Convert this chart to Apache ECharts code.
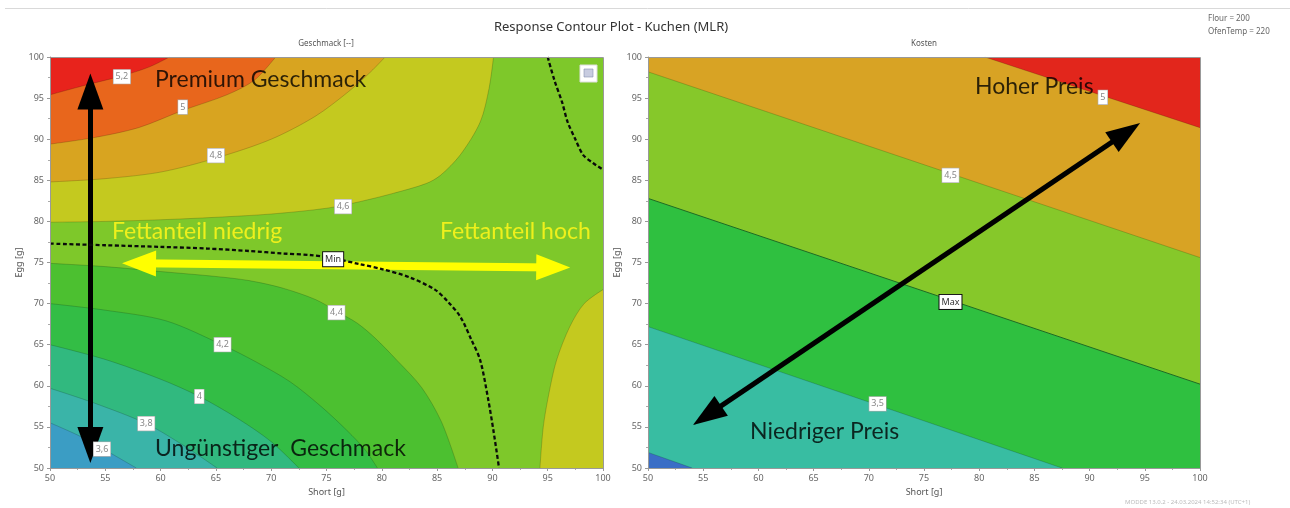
<!DOCTYPE html>
<html><head><meta charset="utf-8">
<script src="https://cdn.jsdelivr.net/npm/echarts@6/dist/echarts.min.js"></script>
<style>html,body{margin:0;padding:0;background:#fff}#c{width:1290px;height:508px}</style>
</head><body><div id="c"></div>
<script>
// ---------- data ----------
const AXIS_MIN = 50, AXIS_MAX = 100, TICK_STEP = 5;

// Geschmack (left) contour lines [Short, Egg]
const geschmack_5_2 = [[50,95.4],[53,96.5],[56.5,97.7],[59,98.8],[60.8,100]];
const geschmack_5_0 = [[50,89.4],[54,90.2],[58,91.4],[62,93.5],[66,95.4],[68.5,97.2],[70.4,100]];
const geschmack_4_8 = [[50,84.8],[55,85.2],[60,86.0],[65,87.7],[70,90.0],[74,92.8],[77,95.8],[79,98.2],[80.3,100]];
const geschmack_4_6_top = [[50,79.9],[55,80.0],[60,80.2],[65,80.5],[70,80.9],[75,81.6],[78,82.4],[81,83.4],[84,84.6],[85.3,85.6],[87.1,88.1],[88.9,92.1],[89.7,96.2],[90.1,100]];
const geschmack_4_6_right = [[94.3,50],[94.6,55],[95.1,59],[95.8,63.1],[97.0,67.2],[98.3,70.0],[100,71.7]];
const geschmack_4_4 = [[50,74.9],[55,74.5],[60,73.9],[65,73.3],[68,72.8],[71,71.9],[74,70.5],[76,69.0],[77.8,67.6],[79.4,65.8],[81.3,63.2],[83.6,59.8],[85.4,55.6],[86.9,50]];
const geschmack_4_2 = [[50,70.0],[55,69.2],[60.5,67.9],[65.7,64.9],[68.5,63.0],[71.7,60.5],[74.5,57.5],[76.9,54.5],[78.5,52.2],[79.6,50]];
const geschmack_4_0 = [[50,65.0],[55,63.2],[60,60.8],[63.5,58.7],[67,56.0],[70,53.2],[72.5,50]];
const geschmack_3_8 = [[50,59.7],[54,57.9],[58.7,55.4],[62,52.8],[65.1,50]];
const geschmack_3_6 = [[50,55.5],[52.5,54.0],[54.7,52.4],[57.8,50]];
const geschmack_minLine = [[50,77.3],[55,77.1],[60,76.9],[64.2,76.7],[68,76.4],[71,76.1],[73.6,75.9],[75.6,75.5],[78,74.8],[80,74.2],[82.5,73.2],[84.8,71.7],[86,70.2],[87.1,68.4],[88.1,65.6],[88.9,63.1],[89.6,58.5],[90.1,54.5],[90.6,50]];
const geschmack_limitTopRight = [[95.0,100],[95.6,97.2],[96.3,94.5],[96.8,92.1],[97.5,90.0],[98.2,88.1],[99.1,87.1],[100,86.3]];
const geschmackLabels = [[56.5,97.6,'5,2'],[62.0,93.9,'5'],[65.0,88.0,'4,8'],[76.5,81.8,'4,6'],[75.9,68.9,'4,4'],[65.6,65.0,'4,2'],[63.5,58.7,'4'],[58.7,55.4,'3,8'],[54.7,52.3,'3,6']];
const geschmackMarker = [[75.6,75.4,'Min']];

// Kosten (right) contour lines [Short, Egg]
const kosten_5_0 = [[80.5,100],[100,91.4]];
const kosten_4_5 = [[50,98.2],[100,75.6]];
const kosten_max = [[50,82.8],[100,60.2]];
const kosten_3_5 = [[50,67.2],[87.5,50]];
const kosten_3_0 = [[50,51.9],[54,50]];
const kostenLabels = [[91.2,95.1,'5'],[77.4,85.6,'4,5'],[70.8,57.8,'3,5']];
const kostenMarker = [[77.4,70.2,'Max']];

// annotation arrows [from, to] in data units
const arrowGeschmack = [[53.65,95.8],[53.65,52.8]];
const arrowFett = [[58.05,74.9],[95.5,74.4]];
const arrowPreis = [[55.35,56.4],[93.3,90.8]];

// ---------- layout ----------
const G = [{left:50, top:57, width:553, height:411},{left:648, top:57, width:552, height:411}];
const FONT = 'Noto Sans';

function axisX(i){return {gridIndex:i,type:'value',min:AXIS_MIN,max:AXIS_MAX,interval:TICK_STEP,
  name:'Short [g]',nameLocation:'middle',nameGap:20,nameTextStyle:{fontSize:9,color:'#555',fontFamily:FONT},
  axisLine:{show:true,lineStyle:{color:'#999'}},axisTick:{show:true,length:3,lineStyle:{color:'#999'}},
  minorTick:{show:true,splitNumber:2,length:2,lineStyle:{color:'#aaa'}},
  axisLabel:{fontSize:9,color:'#666',margin:6,fontFamily:FONT},splitLine:{show:false}};}
function axisY(i){return {gridIndex:i,type:'value',min:AXIS_MIN,max:AXIS_MAX,interval:TICK_STEP,
  name:'Egg [g]',nameLocation:'middle',nameGap:26,nameTextStyle:{fontSize:9,color:'#555',fontFamily:FONT},
  axisLine:{show:true,lineStyle:{color:'#999'}},axisTick:{show:true,length:3,lineStyle:{color:'#999'}},
  minorTick:{show:true,splitNumber:2,length:2,lineStyle:{color:'#aaa'}},
  axisLabel:{fontSize:9,color:'#666',margin:6,fontFamily:FONT},splitLine:{show:false}};}

function band(i,data,color,origin,smooth){return {type:'line',xAxisIndex:i,yAxisIndex:i,data:data,
  smooth:smooth?0.3:false,symbol:'none',silent:true,animation:false,
  lineStyle:{color:'rgba(0,0,0,0.22)',width:0.8},areaStyle:{color:color,opacity:1,origin:origin}};}
function dashed(i,data){return {type:'line',xAxisIndex:i,yAxisIndex:i,data:data,smooth:0.3,
  symbol:'none',silent:true,animation:false,z:5,lineStyle:{color:'#0a0a0a',width:2.3,type:[4,2.5]}};}
function labels(i,data,marker){return {type:'scatter',xAxisIndex:i,yAxisIndex:i,symbol:'rect',symbolSize:1,silent:true,animation:false,z:8,
  itemStyle:{color:'rgba(0,0,0,0)',opacity:1},
  data:data.map(d=>({value:d})).concat(marker.map(d=>({value:d,label:{borderColor:'#111',borderWidth:1,color:'#333'}}))),
  label:{show:true,position:'inside',formatter:p=>p.value[2],fontSize:9,color:'#888',fontFamily:FONT,opacity:1,
    backgroundColor:'#fff',borderColor:'#aaa',borderWidth:0.6,padding:[3,2,2,2]}};}
function arrow(i,pts,color,width,size){return {type:'line',xAxisIndex:i,yAxisIndex:i,data:[],z:9,silent:true,animation:false,
  markLine:{silent:true,animation:false,symbol:['triangle','triangle'],symbolSize:size,label:{show:false},
    lineStyle:{color:color,width:width,type:'solid'},emphasis:{disabled:true},
    data:[[{coord:pts[0]},{coord:pts[1]}]]}};}

const series = [
  band(0,geschmack_4_6_top,'#c4c91f','end',true),
  band(0,geschmack_4_8,'#d8a420','end',true),
  band(0,geschmack_5_0,'#e8661c','end',true),
  band(0,geschmack_5_2,'#e8231c','end',true),
  band(0,geschmack_4_6_right,'#c4c91f','start',true),
  band(0,geschmack_4_4,'#4cc030','start',true),
  band(0,geschmack_4_2,'#33bd45','start',true),
  band(0,geschmack_4_0,'#31b97f','start',true),
  band(0,geschmack_3_8,'#3ab4a8','start',true),
  band(0,geschmack_3_6,'#3b9dc4','start',true),
  dashed(0,geschmack_minLine),
  dashed(0,geschmack_limitTopRight),
  labels(0,geschmackLabels,geschmackMarker),
  band(1,kosten_4_5,'#d8a324','end',false),
  band(1,kosten_5_0,'#e2261c','end',false),
  band(1,kosten_max,'#2fc040','start',false),
  band(1,kosten_3_5,'#38bda2','start',false),
  band(1,kosten_3_0,'#3a6ec6','start',false),
  labels(1,kostenLabels,kostenMarker),
  arrow(0,arrowGeschmack,'#000',5,[26,36]),
  arrow(0,arrowFett,'#ffff00',8,[26,34]),
  arrow(1,arrowPreis,'#000',5,[24,34])
];
series[15].lineStyle = {color:'#1d6b25',width:1};

const annot = (x,y,text,color,size)=>({type:'text',x:x,y:y,z:50,silent:true,
  style:{text:text,fill:color,font:size+'px Lato',textVerticalAlign:'middle'}});

const option = {
  animation:false,
  grid:[Object.assign({show:true,backgroundColor:'#7ec82a',borderWidth:0},G[0]),
        Object.assign({show:true,backgroundColor:'#86c82a',borderWidth:0},G[1])],
  xAxis:[axisX(0),axisX(1)],
  yAxis:[axisY(0),axisY(1)],
  series:series,
  graphic:[
    {type:'line',shape:{x1:5,y1:8.5,x2:1290,y2:8.5},style:{stroke:'#d9d9d9',lineWidth:1},silent:true},
    {type:'text',x:611,y:27,style:{text:'Response Contour Plot - Kuchen (MLR)',fill:'#333',font:'13px "Noto Sans"',textAlign:'center',textVerticalAlign:'middle'}},
    {type:'text',x:326,y:44,style:{text:'Geschmack [--]',fill:'#555',font:'8px "Noto Sans"',textAlign:'center',textVerticalAlign:'middle'}},
    {type:'text',x:924,y:44,style:{text:'Kosten',fill:'#555',font:'8px "Noto Sans"',textAlign:'center',textVerticalAlign:'middle'}},
    {type:'text',x:1208,y:19,style:{text:'Flour = 200',fill:'#666',font:'8px "Noto Sans"',textVerticalAlign:'middle'}},
    {type:'text',x:1208,y:32,style:{text:'OfenTemp = 220',fill:'#666',font:'8px "Noto Sans"',textVerticalAlign:'middle'}},
    {type:'text',x:1125,y:502,style:{text:'MODDE 13.0.2 - 24.03.2024 14:52:34 (UTC+1)',fill:'#bbb',font:'6px "Noto Sans"',textVerticalAlign:'middle'}},
    {type:'rect',shape:{x:G[0].left+0.5,y:G[0].top+0.5,width:G[0].width,height:G[0].height},style:{fill:'none',stroke:'#999',lineWidth:1},z:40,silent:true},
    {type:'rect',shape:{x:G[1].left+0.5,y:G[1].top+0.5,width:G[1].width,height:G[1].height},style:{fill:'none',stroke:'#999',lineWidth:1},z:40,silent:true},
    {type:'rect',shape:{x:580,y:65,width:17,height:17},style:{fill:'#fff',stroke:'#ddd',lineWidth:1},z:40,silent:true},
    {type:'rect',shape:{x:584,y:69,width:9,height:8},style:{fill:'#c8cce0',stroke:'#8890b0',lineWidth:0.6},z:41,silent:true},
    annot(155,80,'Premium Geschmack','rgba(0,0,0,0.8)',23),
    annot(155,449,'Ungünstiger  Geschmack','rgba(0,0,0,0.8)',23),
    annot(112,232,'Fettanteil niedrig','#eef01c',23),
    annot(440,232,'Fettanteil hoch','#eef01c',23),
    annot(975,87,'Hoher Preis','rgba(0,0,0,0.8)',23),
    annot(750,432,'Niedriger Preis','rgba(0,0,0,0.8)',23)
  ]
};
echarts.init(document.getElementById('c'),null,{renderer:'canvas'}).setOption(option);
</script></body></html>
